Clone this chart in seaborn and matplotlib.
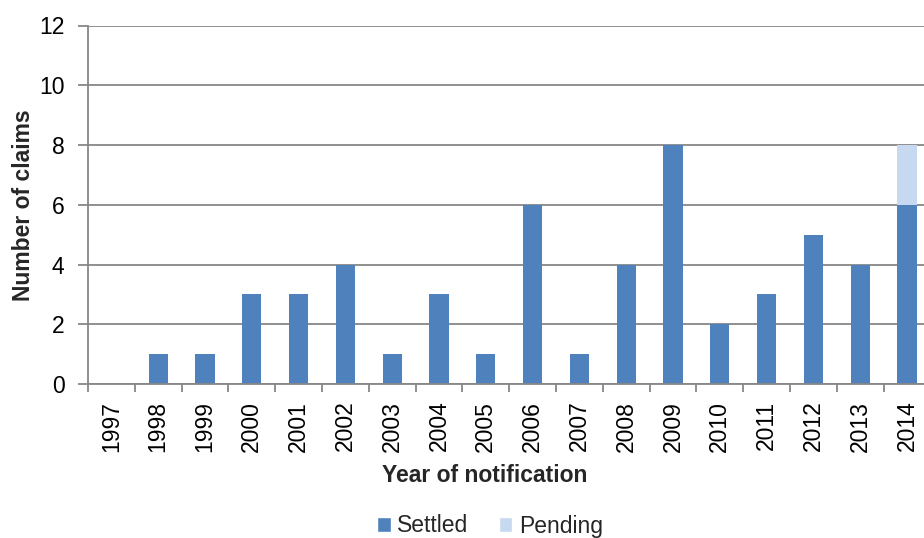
import matplotlib
matplotlib.use("Agg")
import matplotlib.pyplot as plt
import seaborn as sns
import pandas as pd
from matplotlib.patches import Patch

years = ["1997", "1998", "1999", "2000", "2001", "2002", "2003", "2004", "2005",
         "2006", "2007", "2008", "2009", "2010", "2011", "2012", "2013", "2014"]
settled = [0, 1, 1, 3, 3, 4, 1, 3, 1, 6, 1, 4, 8, 2, 3, 5, 4, 6]
pending = [0, 0, 0, 0, 0, 0, 0, 0, 0, 0, 0, 0, 0, 0, 0, 0, 0, 2]
y_ticks = [0, 2, 4, 6, 8, 10, 12]

SETTLED_C = "#4F81BD"
PENDING_C = "#C6D9F1"
GRID_C = "#878787"

sns.set_theme(style="white")
plt.rcParams["font.family"] = ["Liberation Sans", "DejaVu Sans"]

df = pd.DataFrame({"year": years, "settled": settled, "pending": pending})
df["total"] = df["settled"] + df["pending"]

fig = plt.figure(figsize=(9.24, 5.38), dpi=100)
ax_w, ax_h = 842.4, 358.5
ax = fig.add_axes([88 / 924, 1 - 384 / 538, ax_w / 924, ax_h / 538])

sns.barplot(data=df, x="year", y="total", order=years, color=PENDING_C,
            width=0.41, linewidth=0, saturation=1, ax=ax)
sns.barplot(data=df, x="year", y="settled", order=years, color=SETTLED_C,
            width=0.41, linewidth=0, saturation=1, ax=ax)

ax.set_xlim(-0.5, len(years) - 0.5)
ax.set_ylim(0, 12)
ax.set_yticks(y_ticks)
ax.set_yticklabels([str(t) for t in y_ticks], fontsize=16.5, color="black")

ax.yaxis.grid(True, color=GRID_C, linewidth=1.3)
ax.set_axisbelow(True)

for s in ["top", "right"]:
    ax.spines[s].set_visible(False)
for s in ["left", "bottom"]:
    ax.spines[s].set_color(GRID_C)
    ax.spines[s].set_linewidth(1.3)

ax.set_xticks([i for i in range(len(years))])
ax.set_xticklabels(years, rotation=90, fontsize=16.5, color="black")
ax.tick_params(axis="x", which="major", length=0, pad=12)
ax.set_xticks([i - 0.5 for i in range(len(years) + 1)], minor=True)
ax.tick_params(axis="x", which="minor", length=6, width=1.3, color=GRID_C,
               direction="out", bottom=True)
ax.tick_params(axis="y", length=7, width=1.3, color=GRID_C, direction="out",
               left=True, pad=10)

ax.set_xlabel("Year of notification", fontsize=16.5, fontweight="bold")
ax.set_ylabel("Number of claims", fontsize=16.5, fontweight="bold")
ax.xaxis.set_label_coords((485 - 88) / ax_w, -(464 - 384) / ax_h)
ax.yaxis.set_label_coords(-(88 - 35) / ax_w, (384 - 205) / ax_h)

handles = [Patch(facecolor=SETTLED_C, label="Settled"),
           Patch(facecolor=PENDING_C, label="Pending")]
fig.legend(handles=handles, loc="center", bbox_to_anchor=(490 / 924, 1 - 526 / 538),
           ncol=2, frameon=False, fontsize=16.5, handlelength=0.6,
           handleheight=0.6, handletextpad=0.3, columnspacing=1.3,
           borderpad=0)

fig.savefig("out.png", dpi=100)
